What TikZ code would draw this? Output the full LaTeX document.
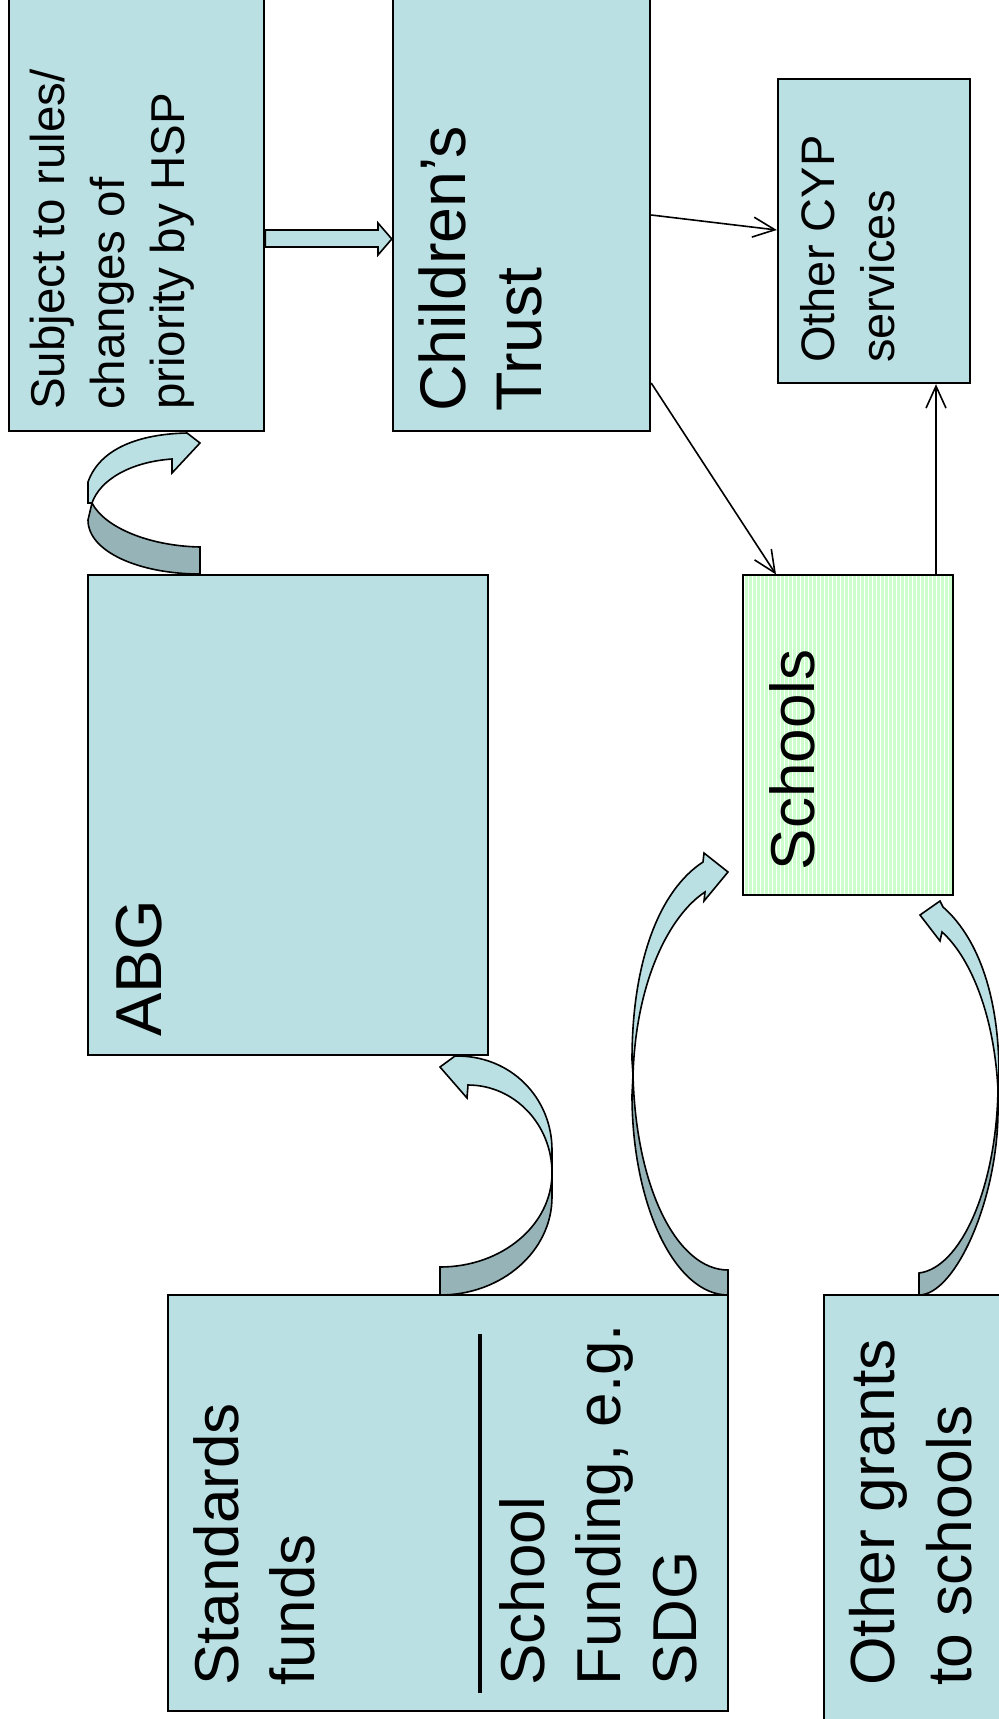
\documentclass[tikz,border=0pt]{standalone}
\usepackage{fontspec}
\setmainfont{Liberation Sans}
\usetikzlibrary{arrows.meta,fit,patterns.meta}
\definecolor{boxblue}{HTML}{BBE0E3}
\definecolor{bandshade}{HTML}{96B4B7}
\definecolor{schoolgreen}{HTML}{CCFFCC}
\tikzset{
  fundbox/.style = {draw=black, line width=1.2pt, fill=boxblue, inner sep=0pt},
  schoolbox/.style = {draw=black, line width=1.2pt, inner sep=0pt, preaction={fill=schoolgreen},
    pattern={Lines[angle=90, distance=2pt, line width=0.5pt]}, pattern color=white},
  boxtext/.style = {rotate=90, anchor=north west, inner sep=0pt, align=left},
  link/.style = {line width=0.8pt, -{Straight Barb[length=11pt, width=10pt]}},
  bandfront/.style = {draw=black, line width=0.8pt, fill=boxblue, line join=miter},
  bandback/.style = {draw=black, line width=0.8pt, fill=bandshade},
}

\begin{document}
\begin{tikzpicture}[x=0.5pt, y=-0.5pt]
\useasboundingbox (0,0) rectangle (999,1719);
% boxes (pixel coordinates, y going down)
\node [fundbox, fit={(9,-20) (264,431)}] (rules) {};
\node [fundbox, fit={(393,-20) (650,431)}] (trust) {};
\node [fundbox, fit={(778,79) (970,383)}] (cyp) {};
\node [fundbox, fit={(88,575) (488,1055)}] (abg) {};
\node [schoolbox, fit={(743,575) (953,895)}] (schools) {};
\node [fundbox, fit={(168,1295) (728,1711)}] (standards) {};
\node [fundbox, fit={(824,1295) (1040,1760)}] (grants) {};

% texts, read bottom to top
\node [boxtext, font=\fontsize{23.75}{30}\selectfont] (rules-t)
  at ([shift={(22,-22)}]rules.south west) {Subject to rules/\\changes of\\priority by HSP};
\node [boxtext, font=\fontsize{32.25}{38}\selectfont] (trust-t)
  at ([shift={(27,-20)}]trust.south west) {Children’s\\Trust};
\node [boxtext, font=\fontsize{23.5}{30}\selectfont] (cyp-t)
  at ([shift={(23,-21)}]cyp.south west) {Other CYP\\services};
\node [boxtext, font=\fontsize{32.5}{38}\selectfont] (abg-t)
  at ([shift={(29,-19)}]abg.south west) {ABG};
\node [boxtext, font=\fontsize{31}{38}\selectfont] (schools-t)
  at ([shift={(27,-25)}]schools.south west) {Schools};
\node [boxtext, font=\fontsize{31}{38}\selectfont] (standards-t)
  at ([shift={(26,-26)}]standards.south west) {Standards\\funds};
\node [boxtext, font=\fontsize{31}{38}\selectfont] (sdg-t)
  at ([shift={(332,-26)}]standards.south west) {School\\Funding, e.g.\\SDG};
\node [boxtext, font=\fontsize{31.2}{38.5}\selectfont] (grants-t)
  at ([shift={(26,-75)}]grants.south west) {Other grants\\to schools};
\draw [line width=1.8pt] ([shift={(313,-19)}]standards.south west) -- ([shift={(313,-378)}]standards.south west);

% block arrow and plain links
\draw [bandfront] (rules.east |- 0,230) -- (378,230) -- (378,223) -- (trust.west |- 0,239)
  -- (378,255) -- (378,247) -- (rules.east |- 0,247) -- cycle;
\draw [link] (trust.east |- 0,215) -- (cyp.west |- 0,230);
\draw [link] (trust.east |- 0,383) -- (776,0 |- schools.north);
\draw [link] (936,0 |- schools.north) -- (936,0 |- cyp.south);

% curved arrows: ABG up to the rules box
\filldraw [bandback] (200,574) .. controls (140,574) and (88,552) .. (88,520) -- (92,503)
  .. controls (105,528) and (150,546) .. (200,547) -- cycle;
\filldraw [bandfront] (88,503) -- (88,482) .. controls (100,448) and (140,434) .. (187,433)
  -- (200,443) -- (172,473) -- (172,459) .. controls (130,462) and (100,480) .. (92,503) -- cycle;
% standards funds into ABG
\filldraw [bandback] (440,1295) .. controls (502,1295) and (552,1251) .. (552,1197) -- (552,1173)
  .. controls (552,1225) and (502,1267) .. (440,1267) -- cycle;
\filldraw [bandfront] (552,1173) -- (552,1150) .. controls (552,1098) and (511,1055) .. (455,1056)
  -- (440,1067) -- (467,1098) -- (468,1085) .. controls (514,1085) and (552,1124) .. (552,1173) -- cycle;
% school funding into schools
\filldraw [bandback] (728,1295) .. controls (675,1295) and (632,1205) .. (632,1095) -- (633,1075)
  .. controls (636,1190) and (678,1270) .. (728,1270) -- cycle;
\filldraw [bandfront] (633,1075) -- (632,1060) .. controls (632,960) and (660,890) .. (703,862)
  -- (704,853) -- (728,872) -- (704,901) -- (705,892) .. controls (670,915) and (636,980) .. (633,1075) -- cycle;
% other grants into schools
\filldraw [bandback] (919,1295) .. controls (955,1295) and (998,1200) .. (998,1110) -- (998,1090)
  .. controls (996,1190) and (960,1268) .. (919,1273) -- cycle;
\filldraw [bandfront] (998,1090) -- (999,1075) .. controls (999,990) and (975,935) .. (943,907)
  -- (940,901) -- (920,915) -- (940,941) -- (942,932) .. controls (968,955) and (994,1010) .. (998,1090) -- cycle;
\end{tikzpicture}
\end{document}
